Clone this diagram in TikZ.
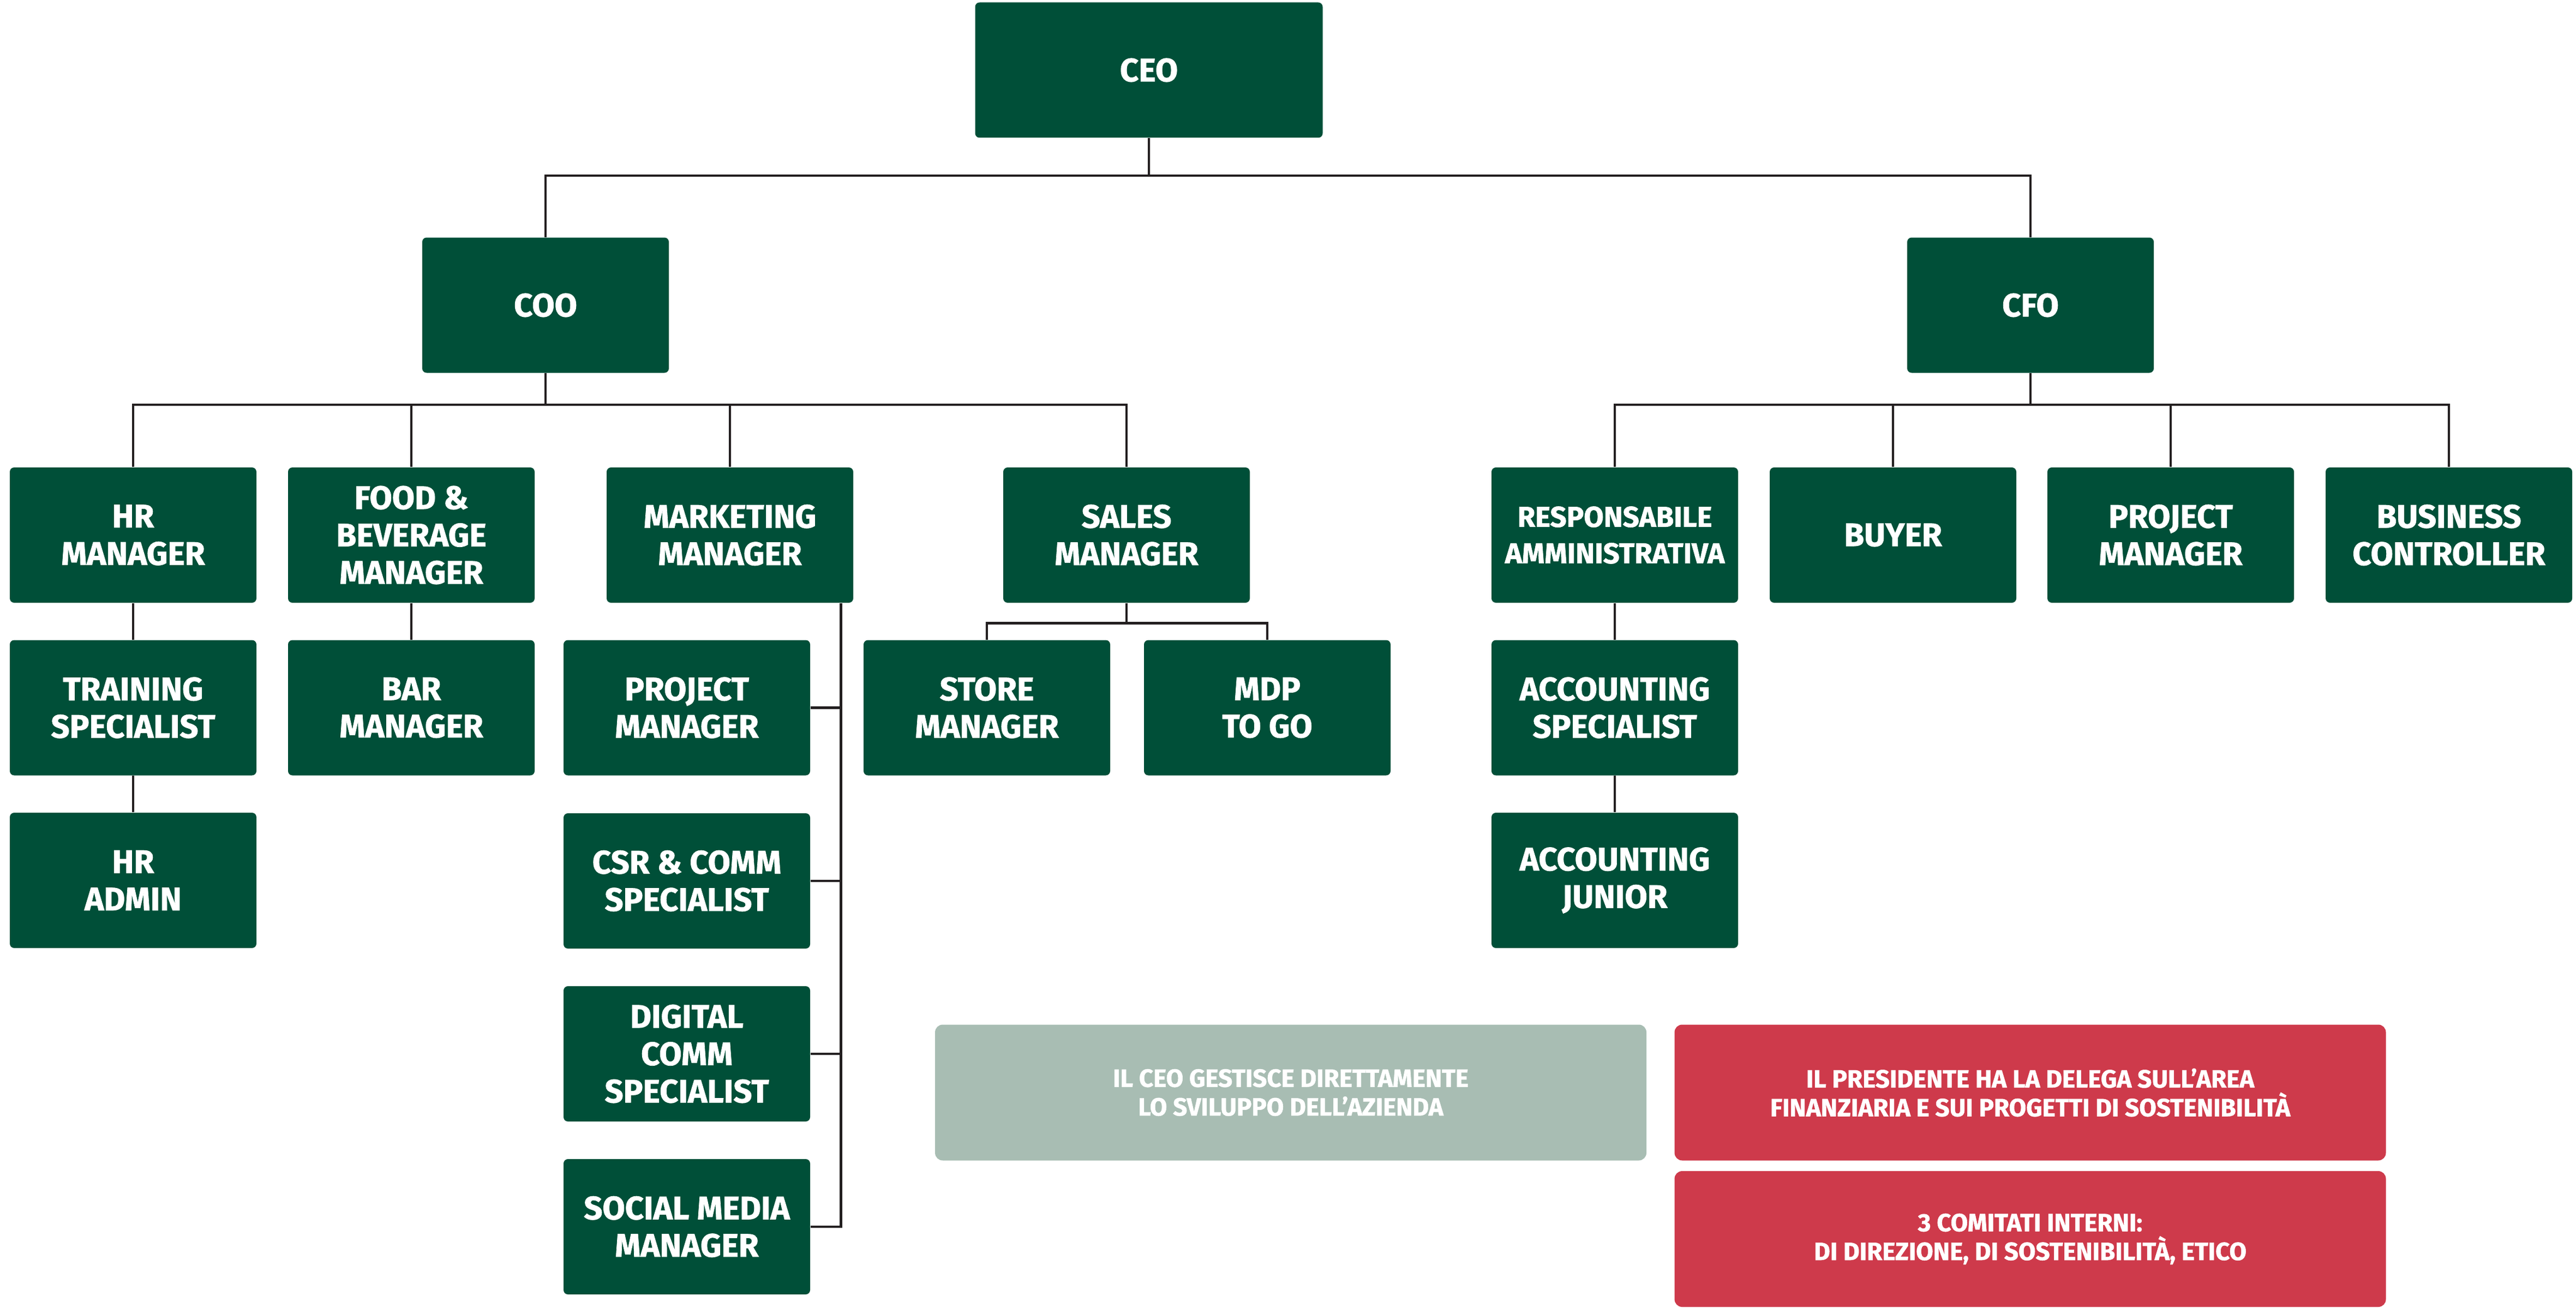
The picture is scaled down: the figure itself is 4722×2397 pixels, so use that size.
\documentclass[tikz,border=0pt]{standalone}
\usepackage{fontspec}
\setmainfont{Fira Sans}[BoldFeatures={FakeBold=1.2}]

\definecolor{boxgreen}{HTML}{004F38}
\definecolor{notegrey}{HTML}{A8BDB3}
\definecolor{notered}{HTML}{CE3A4B}
\definecolor{linegrey}{HTML}{231F20}

\tikzstyle{role}=[fill=boxgreen,text=white,rounded corners=0.8mm,minimum width=45.2mm,minimum height=24.8mm,inner sep=0pt,align=center,font=\bfseries\fontsize{17}{19.5}\selectfont]
\tikzstyle{note}=[role,minimum width=130.4mm,minimum height=24.9mm,rounded corners=1.4mm,font=\bfseries\fontsize{13}{15}\selectfont]
\tikzstyle{link}=[draw=linegrey,line width=1.3pt,-]

\begin{document}
\begin{tikzpicture}[x=0.1mm, y=-0.1mm]
    \useasboundingbox (0,0) rectangle (4722,2397);
    % First we draw the boxes
    \node[role, minimum width=63.7mm] (ceo) at (2106,128.5) {CEO};
    \foreach \pos/\name/\words in {{(1000,559.5)/coo/COO}, {(3722,559.5)/cfo/CFO},
            {(244,981)/hr/{HR\\MANAGER}}, {(754,981)/fb/{FOOD \&\\BEVERAGE\\MANAGER}},
            {(1338,981)/mkt/{MARKETING\\MANAGER}}, {(2065,981)/sales/{SALES\\MANAGER}},
            {(3470,981)/buyer/BUYER}, {(3979,981)/cfopm/{PROJECT\\MANAGER}},
            {(4489,981)/bc/{BUSINESS\\CONTROLLER}},
            {(244,1297.5)/training/{TRAINING\\SPECIALIST}}, {(754,1297.5)/bar/{BAR\\MANAGER}},
            {(1259,1297.5)/mktpm/{PROJECT\\MANAGER}}, {(1809,1297.5)/store/{STORE\\MANAGER}},
            {(2323,1297.5)/mdp/{MDP\\TO GO}}, {(2960,1297.5)/accspec/{ACCOUNTING\\SPECIALIST}},
            {(244,1614)/hradmin/{HR\\ADMIN}}, {(1259,1615)/csr/{CSR \& COMM\\SPECIALIST}},
            {(2960,1614)/accjun/{ACCOUNTING\\JUNIOR}},
            {(1259,1932)/digital/{DIGITAL\\COMM\\SPECIALIST}},
            {(1259,2249)/social/{SOCIAL MEDIA\\MANAGER}}}
        \node[role] (\name) at \pos {\words};
    \node[role, font=\bfseries\fontsize{15}{19}\selectfont] (resp) at (2960,981) {RESPONSABILE\\AMMINISTRATIVA};
    % Notes at the bottom
    \node[note, fill=notegrey] (ceonote) at (2366,2003) {IL CEO GESTISCE DIRETTAMENTE\\LO SVILUPPO DELL’AZIENDA};
    \node[note, fill=notered] (presnote) at (3721.5,2003) {IL PRESIDENTE HA LA DELEGA SULL’AREA\\FINANZIARIA E SUI PROGETTI DI SOSTENIBILITÀ};
    \node[note, fill=notered] (comnote) at (3721.5,2271.5) {3 COMITATI INTERNI:\\DI DIREZIONE, DI SOSTENIBILITÀ, ETICO};
    % Connect boxes with lines
    \foreach \dest in {coo,cfo}
        \path[link] (ceo.south) -- ++(0,69) -| (\dest.north);
    \foreach \dest in {hr,fb,mkt,sales}
        \path[link] (coo.south) -- ++(0,58) -| (\dest.north);
    \foreach \dest in {resp,buyer,cfopm,bc}
        \path[link] (cfo.south) -- ++(0,58) -| (\dest.north);
    \foreach \dest in {store,mdp}
        \path[link] (sales.south) -- ++(0,37) -| (\dest.north);
    \foreach \source/\dest in {hr/training,training/hradmin,fb/bar,resp/accspec,accspec/accjun}
        \path[link] (\source.south) -- (\dest.north);
    % Marketing team hangs on one long line
    \coordinate (mktdrop) at ([xshift=-2.3mm]mkt.south east);
    \path[link] (mktdrop) |- (social.east);
    \foreach \dest in {mktpm,csr,digital}
        \path[link] (\dest.east) -| (mktdrop);
\end{tikzpicture}
\end{document}
